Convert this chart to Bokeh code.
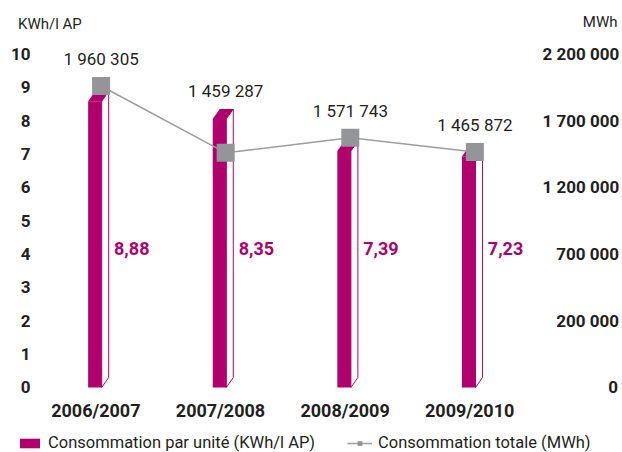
from bokeh.plotting import figure
from bokeh.models import Range1d, LinearAxis, FixedTicker, Legend, LegendItem
from bokeh.embed import file_html
from bokeh.resources import INLINE
from bokeh.core.properties import value

# ---------------- data ----------------
categories = ["2006/2007", "2007/2008", "2008/2009", "2009/2010"]
unit_consumption = [8.88, 8.35, 7.39, 7.23]               # KWh/l AP (left axis)
total_consumption = [1960305, 1459287, 1571743, 1465872]  # MWh (right axis)
left_ticks = [0, 1, 2, 3, 4, 5, 6, 7, 8, 9, 10]
right_ticks = [-300000, 200000, 700000, 1200000, 1700000, 2200000]
right_tick_labels = ["0", "200 000", "700 000", "1 200 000", "1 700 000", "2 200 000"]
legend_labels = ["Consommation par unité (KWh/l AP)", "Consommation totale (MWh)"]
unit_left = "KWh/l AP"
unit_right = "MWh"

# ---------------- style ----------------
MAGENTA = "#b0006d"
GREY = "#939598"
LINE_GREY = "#9d9d9d"
TEXT = "#231f20"
FONT = "Roboto"

PX_X = 124.8          # pixels per category step
PX_Y = 33.35          # pixels per left-axis unit
# bar geometry (x in category units, y in left units)
FL, FR, DX, DY = -0.062, 0.047, 0.056, 0.30
MX = 0.042            # marker offset from category centre

# right axis is linear, aligned so that 200 000 sits on 2 and 2 200 000 on 10
R0, RK = -300000, 250000

xr = Range1d(-0.629, 4.1947)
yr = Range1d(-1.949, 11.604)

p = figure(width=622, height=452, x_range=xr, y_range=yr,
           output_backend="svg", toolbar_location=None,
           min_border_left=17, min_border_right=3,
           min_border_top=0, min_border_bottom=0)
p.extra_y_ranges = {"mwh": Range1d(R0 + yr.start * RK, R0 + yr.end * RK)}
p.outline_line_color = None
p.xgrid.visible = False
p.ygrid.visible = False
p.background_fill_color = "white"
p.border_fill_color = "white"
p.xaxis.visible = False

xs = list(range(len(categories)))

# side faces (white with magenta outline)
side_xs = [[x + FR, x + FR + DX, x + FR + DX, x + FR] for x in xs]
side_ys = [[0, DY, v, v - DY] for v in unit_consumption]
p.patches(side_xs, side_ys, fill_color="white", line_color=MAGENTA, line_width=1)

# front faces
front = p.quad(left=[x + FL for x in xs], right=[x + FR for x in xs],
               bottom=[0] * len(xs), top=[v - DY for v in unit_consumption],
               fill_color=MAGENTA, line_color=None)

# top faces
top_xs = [[x + FL, x + FL + DX, x + FR + DX, x + FR] for x in xs]
top_ys = [[v - DY, v, v, v - DY] for v in unit_consumption]
p.patches(top_xs, top_ys, fill_color=MAGENTA, line_color=None)

# bar value labels
p.text(x=[x + 0.288 for x in xs], y=[4.18] * len(xs),
       text=[f"{v:.2f}".replace(".", ",") for v in unit_consumption],
       text_font=value(FONT), text_font_style="bold", text_font_size="18px",
       text_color=MAGENTA, text_align="center", text_baseline="middle")

# category labels under the bars
p.text(x=xs, y=[-0.675] * len(xs), text=categories,
       text_font=value(FONT), text_font_style="bold", text_font_size="18px",
       text_color=TEXT, text_align="center", text_baseline="middle")

# total consumption line
mx = [x + MX for x in xs]
line_r = p.line(mx, total_consumption, y_range_name="mwh", line_color=LINE_GREY, line_width=1.5)
scat_r = p.scatter(mx, total_consumption, y_range_name="mwh", marker="square", size=18,
                   fill_color=GREY, line_color=None)

# total consumption labels, above whichever is higher (bar or marker)
lab_y = []
for v, t in zip(unit_consumption, total_consumption):
    marker_left = (t - R0) / RK
    lab_y.append(max(v, marker_left + 9 / PX_Y) + 18 / PX_Y)
p.text(x=mx, y=lab_y, text=[f"{t:,}".replace(",", " ") for t in total_consumption],
       text_font=value(FONT), text_font_size="17px", text_color=TEXT,
       text_align="center", text_baseline="middle")

# unit captions above the two axes
p.text(x=[xr.start + 0.004, xr.end - 0.008], y=[10.885, 10.96], text=[unit_left, unit_right],
       text_align=["left", "right"], text_font=value(FONT), text_font_size="15px",
       text_color=TEXT, text_baseline="middle")

# ---------------- axes ----------------
yax = p.yaxis[0]
yax.ticker = FixedTicker(ticks=left_ticks)
yax.axis_line_color = None
yax.major_tick_line_color = None
yax.minor_tick_line_color = None
yax.major_tick_out = 0
yax.major_tick_in = 0
yax.major_label_text_font = FONT
yax.major_label_text_font_style = "bold"
yax.major_label_text_font_size = "17px"
yax.major_label_text_color = TEXT
yax.major_label_standoff = -13


def pad(lbl, ref):
    nd = sum(c.isdigit() for c in ref) - sum(c.isdigit() for c in lbl)
    ns = ref.count(" ") - lbl.count(" ")
    return "\u2007" * nd + "\u00a0" * ns + lbl


ref_lbl = max(right_tick_labels, key=len)
rax = LinearAxis(y_range_name="mwh", ticker=FixedTicker(ticks=right_ticks))
rax.major_label_overrides = {t: pad(l, ref_lbl) for t, l in zip(right_ticks, right_tick_labels)}
rax.axis_line_color = None
rax.major_tick_line_color = None
rax.minor_tick_line_color = None
rax.major_tick_out = 0
rax.major_tick_in = 0
rax.major_label_text_font = FONT
rax.major_label_text_font_style = "bold"
rax.major_label_text_font_size = "17px"
rax.major_label_text_color = TEXT
rax.major_label_standoff = -76
p.add_layout(rax, "right")

# legend at the bottom-left corner
legend = Legend(items=[LegendItem(label=value(legend_labels[0]), renderers=[front]),
                       LegendItem(label=value(legend_labels[1]), renderers=[line_r, scat_r])],
                orientation="horizontal", location=(0, 0), padding=0, margin=0,
                spacing=32, glyph_width=25, glyph_height=12, label_standoff=6,
                label_text_font=FONT, label_text_font_size="16.5px", label_text_color=TEXT,
                border_line_color=None, background_fill_alpha=0)
p.add_layout(legend)

open("out.html", "w").write(file_html(p, INLINE))
